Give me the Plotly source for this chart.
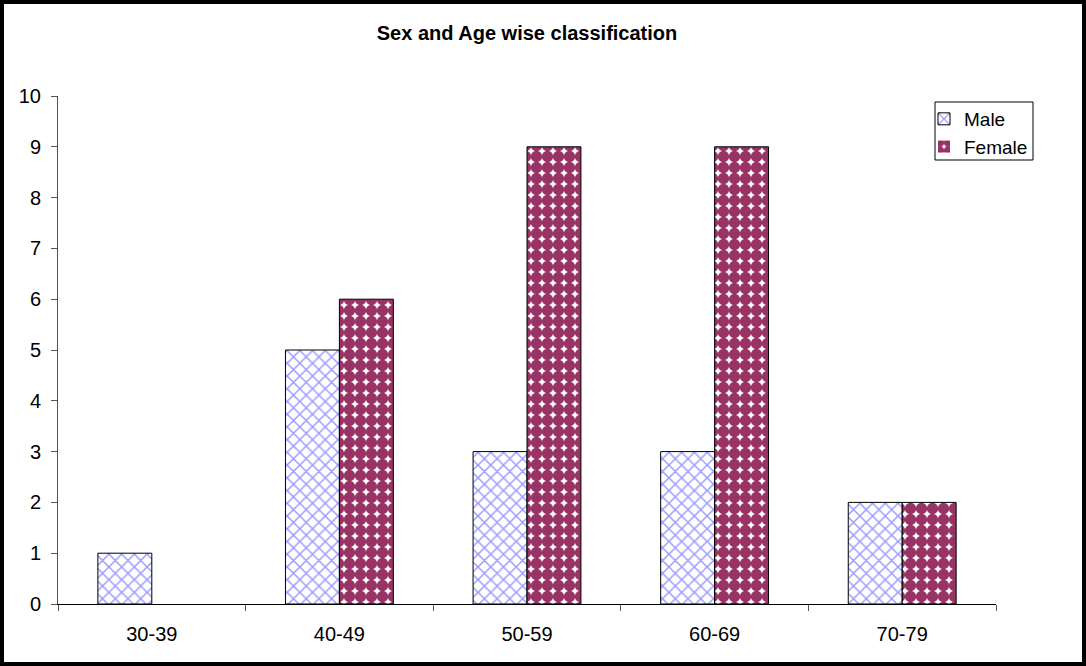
import plotly.graph_objects as go

age_groups = ["30-39", "40-49", "50-59", "60-69", "70-79"]
male = [1, 5, 3, 3, 2]
female = [0, 6, 9, 9, 2]

# plot-area geometry in pixels (for the outer frame and legend box)
W, H = 1086, 666
L, R, T, B = 58, 90, 96, 62
pw, ph = W - L - R, H - T - B

def px_x(px):
    return (px - L) / pw

def px_y(py):
    return (H - B - py) / ph

def outline(values):
    # no outline on empty bars
    return [1 if v > 0 else 0 for v in values]

fig = go.Figure()
fig.add_trace(go.Bar(
    name="Male", x=age_groups, y=male,
    marker=dict(
        color="white",
        line=dict(color="black", width=outline(male)),
        pattern=dict(shape="x", fgcolor="#9A9AFF", bgcolor="white",
                     fgopacity=1, size=9, solidity=0.3),
    ),
))
fig.add_trace(go.Bar(
    name="Female", x=age_groups, y=female,
    marker=dict(
        color="white",
        line=dict(color="black", width=outline(female)),
        pattern=dict(shape=".", fgcolor="#993366", bgcolor="white",
                     fgopacity=1, size=11, solidity=0.8),
    ),
))

fig.update_layout(
    width=W, height=H,
    margin=dict(l=L, r=R, t=T, b=B),
    paper_bgcolor="white", plot_bgcolor="white",
    barmode="group", bargap=0.425, bargroupgap=0,
    font=dict(family="Liberation Sans, Arial, sans-serif", size=20, color="black"),
    title=dict(text="<b>Sex and Age wise classification</b>",
               x=0.5, xanchor="center", xref="paper",
               y=1 - 33 / H, yanchor="middle",
               font=dict(size=20)),
    showlegend=True,
    legend=dict(x=px_x(924), y=px_y(100), xanchor="left", yanchor="top",
                borderwidth=0, bgcolor="rgba(0,0,0,0)",
                font=dict(size=19), tracegroupgap=0,
                itemwidth=30),
    xaxis=dict(showline=True, linecolor="black", linewidth=1,
               ticks="outside", ticklen=6, tickcolor="#555",
               ticklabelstandoff=12,
               tickson="boundaries", showgrid=False, fixedrange=True),
    yaxis=dict(range=[0, 10], dtick=1, showline=True, linecolor="#555",
               linewidth=1, ticks="outside", ticklen=6, tickcolor="#555",
               ticklabelstandoff=6,
               showgrid=False, zeroline=False, fixedrange=True),
    shapes=[
        dict(type="rect", xref="paper", yref="paper",
             x0=px_x(935), x1=px_x(1033), y0=px_y(160), y1=px_y(102),
             line=dict(color="black", width=1), fillcolor="white",
             layer="below"),
        dict(type="rect", xref="paper", yref="paper",
             x0=px_x(2), x1=px_x(1084), y0=px_y(664), y1=px_y(2),
             line=dict(color="black", width=4), layer="above"),
    ],
)

fig.write_html("out.html")
